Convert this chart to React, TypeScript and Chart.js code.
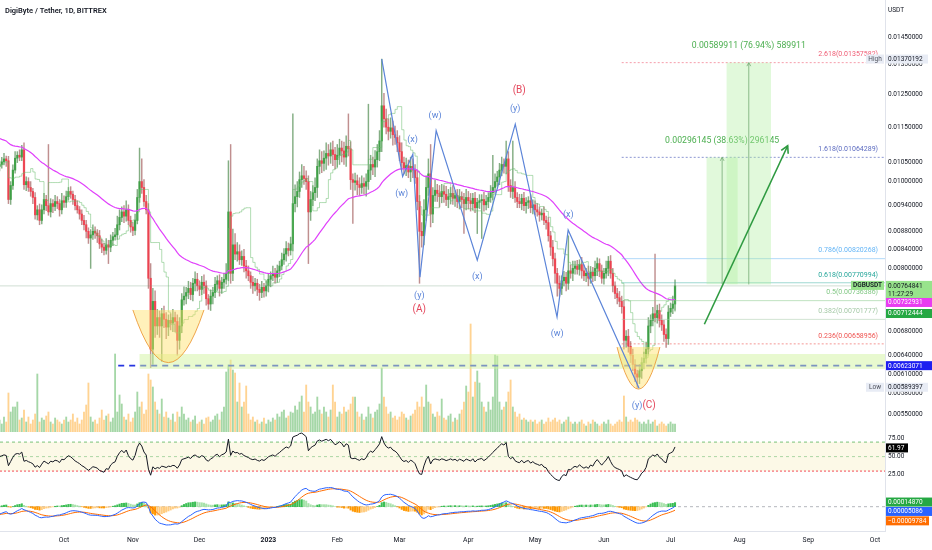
import { useEffect, useRef } from 'react';
import { Chart, registerables } from 'chart.js';

Chart.register(...registerables);

const FONT = 'Roboto, "Noto Sans", sans-serif';
const TEXT = '#131722';
Chart.defaults.font.family = FONT;

// ---- candles: one per day, day 0 = 2 Sep 2022, day 304 = 3 Jul 2023 (values in 1e-5 USDT)
const PRICE_UNIT = 0.00001;
const FIRST_OPEN = 1040;
const closeP = [
  1045, 1052, 1060, 1055, 955, 990, 1030, 1062, 1070, 1065,
  1085, 992, 1000, 985, 975, 960, 918, 930, 905, 930,
  955, 940, 925, 945, 938, 950, 945, 930, 952, 948,
  962, 975, 968, 955, 940, 930, 920, 905, 895, 880,
  865, 872, 880, 876, 870, 852, 845, 838, 850, 845,
  860, 868, 872, 895, 912, 925, 915, 930, 905, 890,
  882, 905, 960, 1000, 985, 950, 930, 780, 650, 735,
  690, 705, 690, 712, 702, 688, 700, 695, 705, 698,
  665, 690, 738, 745, 752, 760, 748, 770, 778, 765,
  758, 772, 765, 740, 730, 745, 752, 768, 775, 760,
  772, 778, 790, 925, 790, 850, 830, 835, 818, 825,
  805, 795, 785, 772, 765, 770, 758, 752, 762, 755,
  765, 778, 785, 790, 782, 795, 805, 818, 830, 842,
  838, 852, 945, 962, 975, 1005, 1015, 1008, 1000, 925,
  955, 972, 985, 1040, 1055, 1048, 1062, 1075, 1068, 1085,
  1072, 1058, 1070, 1090, 1082, 1065, 1095, 1088, 1005, 998,
  1002, 992, 985, 995, 988, 1000, 1030, 1045, 1038, 1058,
  1080, 1110, 1215, 1175, 1150, 1138, 1148, 1128, 1120, 1105,
  1080, 1050, 1035, 1042, 1025, 1040, 1030, 1010, 950, 880,
  870, 930, 985, 1020, 920, 965, 978, 970, 962, 975,
  968, 955, 962, 970, 958, 965, 950, 962, 955, 945,
  960, 952, 945, 958, 935, 948, 952, 955, 942, 950,
  960, 972, 985, 1000, 1012, 1030, 1045, 1040, 1060, 990,
  975, 985, 960, 950, 945, 958, 940, 948, 952, 935,
  942, 930, 925, 918, 922, 905, 900, 870, 845, 820,
  790, 770, 760, 775, 782, 770, 795, 790, 800, 805,
  798, 808, 795, 785, 790, 780, 792, 785, 800, 810,
  795, 780, 790, 800, 815, 790, 765, 750, 742, 735,
  725, 665, 672, 655, 640, 625, 610, 605, 615, 628,
  635, 650, 690, 700, 712, 705, 718, 700, 692, 675,
  668, 715, 722, 730, 764.841,
];
const upperWick = [
  10, 12, 15, 8, 12, 10, 14, 18, 10, 15,
  13, 20, 12, 10, 15, 8, 12, 10, 14, 12,
  15, 10, 160, 12, 10, 15, 12, 10, 18, 12,
  14, 10, 12, 8, 10, 12, 8, 10, 12, 10,
  8, 12, 15, 10, 8, 12, 10, 8, 14, 10,
  12, 10, 15, 20, 18, 12, 15, 22, 12, 10,
  10, 15, 20, 90, 60, 20, 15, 15, 30, 25,
  20, 15, 12, 10, 14, 12, 10, 12, 15, 10,
  12, 15, 12, 18, 10, 14, 12, 10, 15, 12,
  10, 12, 15, 10, 8, 12, 10, 14, 10, 12,
  10, 12, 20, 130, 175, 35, 25, 20, 15, 12,
  15, 12, 10, 8, 12, 10, 8, 10, 12, 8,
  10, 12, 8, 15, 10, 12, 10, 14, 12, 15,
  12, 15, 245, 30, 25, 20, 30, 25, 20, 15,
  20, 18, 25, 20, 30, 25, 20, 30, 25, 20,
  25, 20, 30, 25, 20, 25, 30, 95, 20, 15,
  20, 15, 18, 20, 15, 20, 190, 25, 20, 25,
  20, 30, 155, 40, 30, 25, 30, 20, 25, 20,
  20, 25, 15, 20, 15, 25, 20, 15, 20, 15,
  20, 25, 30, 40, 80, 20, 25, 15, 20, 18,
  15, 20, 18, 15, 20, 12, 15, 18, 12, 15,
  20, 15, 18, 12, 15, 10, 15, 12, 18, 15,
  12, 18, 85, 20, 15, 18, 20, 15, 50, 20,
  15, 125, 15, 12, 18, 10, 15, 12, 10, 15,
  12, 10, 15, 12, 10, 15, 10, 12, 10, 15,
  12, 10, 15, 10, 12, 10, 75, 12, 15, 10,
  12, 10, 15, 12, 10, 15, 12, 10, 15, 12,
  10, 12, 10, 15, 10, 12, 10, 8, 10, 12,
  10, 12, 10, 12, 8, 10, 8, 6, 10, 8,
  10, 12, 15, 10, 12, 118, 10, 12, 10, 8,
  10, 12, 10, 15, 12,
];
const lowerWick = [
  12, 10, 8, 15, 10, 12, 10, 8, 12, 10,
  10, 12, 15, 10, 12, 15, 10, 12, 10, 8,
  10, 12, 8, 12, 15, 10, 12, 15, 10, 12,
  12, 8, 10, 12, 10, 8, 12, 10, 12, 15,
  12, 65, 10, 12, 15, 10, 12, 10, 8, 35,
  10, 12, 8, 10, 12, 10, 15, 12, 10, 12,
  12, 10, 8, 12, 15, 12, 10, 20, 30, 25,
  20, 15, 20, 60, 15, 20, 15, 12, 15, 18,
  25, 15, 12, 10, 15, 12, 10, 12, 15, 10,
  12, 10, 15, 12, 10, 12, 15, 10, 12, 15,
  10, 12, 10, 15, 20, 15, 12, 15, 10, 12,
  12, 15, 10, 12, 15, 10, 12, 15, 10, 12,
  10, 12, 15, 10, 12, 10, 12, 8, 10, 15,
  12, 10, 15, 20, 25, 15, 20, 15, 20, 115,
  20, 15, 20, 25, 20, 25, 20, 30, 25, 20,
  30, 25, 20, 25, 30, 20, 25, 20, 25, 100,
  20, 25, 20, 15, 20, 25, 20, 25, 20, 25,
  20, 25, 30, 25, 20, 25, 20, 30, 20, 25,
  25, 20, 15, 20, 15, 25, 20, 15, 20, 110,
  25, 20, 25, 20, 30, 20, 15, 20, 25, 15,
  20, 15, 20, 18, 15, 20, 15, 18, 20, 70,
  15, 20, 18, 15, 12, 60, 15, 88, 15, 12,
  15, 12, 18, 15, 12, 20, 15, 18, 20, 15,
  15, 18, 12, 15, 10, 15, 12, 18, 15, 12,
  15, 12, 10, 15, 12, 10, 15, 12, 18, 15,
  20, 25, 15, 12, 10, 15, 12, 10, 15, 12,
  10, 12, 15, 10, 12, 15, 10, 12, 10, 15,
  12, 10, 12, 10, 15, 10, 12, 10, 12, 10,
  12, 15, 12, 10, 12, 10, 12, 16, 10, 12,
  10, 8, 10, 12, 10, 8, 10, 12, 10, 12,
  15, 10, 8, 10, 12,
];
// volume, relative units (no scale shown in the reference)
const volumeM = [
  12, 8, 15, 10, 39, 20, 25, 25, 30, 12,
  14, 22, 10, 15, 8, 12, 18, 58, 10, 14,
  12, 16, 20, 10, 8, 14, 12, 10, 8, 12,
  15, 10, 12, 18, 10, 14, 8, 12, 20, 27,
  49, 15, 10, 12, 8, 14, 22, 12, 16, 18,
  10, 14, 78, 20, 37, 28, 15, 12, 18, 10,
  14, 20, 40, 25, 30, 18, 22, 58, 52, 45,
  30, 22, 18, 33, 15, 20, 14, 12, 18, 10,
  20, 15, 25, 18, 12, 14, 10, 12, 16, 8,
  10, 12, 8, 14, 15, 10, 12, 16, 18, 12,
  20, 25, 60, 67, 72, 62, 59, 30, 49, 25,
  30, 46, 18, 12, 15, 10, 12, 8, 10, 14,
  8, 12, 10, 14, 12, 18, 15, 20, 22, 14,
  16, 20, 19, 26, 22, 30, 36, 20, 47, 30,
  25, 18, 20, 35, 22, 18, 25, 20, 15, 22,
  47, 30, 15, 20, 18, 25, 20, 22, 28, 35,
  35, 20, 15, 18, 12, 15, 25, 18, 14, 20,
  22, 28, 64, 35, 25, 18, 20, 14, 16, 12,
  15, 20, 18, 14, 12, 16, 18, 22, 30, 25,
  35, 25, 47, 30, 28, 18, 15, 20, 16, 33,
  14, 12, 16, 18, 10, 14, 12, 18, 22, 30,
  46, 40, 108, 35, 50, 61, 49, 30, 25, 20,
  30, 22, 35, 77, 76, 30, 22, 25, 30, 40,
  52, 25, 20, 15, 18, 12, 14, 12, 10, 12,
  10, 12, 8, 10, 12, 8, 10, 14, 10, 12,
  14, 10, 12, 8, 10, 12, 15, 10, 8, 10,
  8, 10, 12, 8, 6, 10, 8, 12, 10, 8,
  6, 8, 10, 8, 12, 8, 6, 8, 10, 12,
  10, 36, 15, 10, 12, 10, 14, 12, 10, 8,
  10, 8, 12, 8, 10, 12, 6, 8, 10, 8,
  6, 8, 10, 8, 8,
];

// indicator starting values read at the left edge
const EMA_SEED = 0.0112;
const MACD_FAST_SEED = 0.0104;
const MACD_SLOW_SEED = 0.01066;
const MACD_SIGNAL_SEED = -0.00025;
const RSI_SEED = 0.00012;

// axes
const X_MIN = 0.2;
const X_MAX = 398.5;
const PRICE_MIN = 0.005254;
const PRICE_MAX = 0.015947;
const priceTicks = [0.0145, 0.0135, 0.0125, 0.0115, 0.0105, 0.01, 0.0094, 0.0088, 0.0084, 0.008, 0.0068, 0.0064, 0.0061, 0.0058, 0.0055];
const rsiTicks = [25, 50, 75];
const monthDays = [29, 60, 90, 121, 152, 180, 211, 241, 272, 302, 333, 364, 394];
const monthNames = ['Oct', 'Nov', 'Dec', '2023', 'Feb', 'Mar', 'Apr', 'May', 'Jun', 'Jul', 'Aug', 'Sep', 'Oct'];

// fib extension
const fibRatios = ['0.236', '0.382', '0.5', '0.618', '0.786', '1.618', '2.618'];
const fibValues = [0.00658956, 0.00701777, 0.00736386, 0.00770994, 0.00820268, 0.01064289, 0.01357582];
const FIB_START_DAY = 280;

// elliott wave path and labels
const waveDays = [172, 181.4, 186, 189.2, 196.5, 215, 232.1, 250.9, 255.9, 287.8];
const wavePrices = [0.0137, 0.01013, 0.01073, 0.00782, 0.0114, 0.00817, 0.01159, 0.00706, 0.00883, 0.00588];
const waveTexts = ['(w)', '(x)', '(y)', '(w)', '(x)', '(y)', '(w)', '(x)', '(y)'];
const waveTextDays = [181, 185.9, 188.9, 196, 215, 232.1, 251, 256, 286.9];
const waveTextPrices = [0.0097, 0.01113, 0.00746, 0.01185, 0.00783, 0.01205, 0.00676, 0.00918, 0.00562];
const degreeTexts = ['(A)', '(B)', '(C)'];
const degreeDays = [188.9, 233.9, 292.3];
const degreePrices = [0.00719, 0.01265, 0.00562];

// price projections
const projFrom = [318.2, 327.2];
const projTo = [332.2, 347.2];
const projBase = [0.00768144, 0.00767671];
const projTarget = [0.01064289, 0.01357582];
const projTexts = ['0.00296145 (38.63%) 296145', '0.00589911 (76.94%) 589911'];
const arrowDays = [317.2, 354.7];
const arrowPrices = [0.00693, 0.010965];

// rounded bottoms
const bowlFrom = [60, 277.9];
const bowlTo = [92, 297.2];
const bowlTop = [0.00719, 0.006535];
const bowlBottom = [0.00628, 0.005867];

// support
const SUPPORT = 0.00623071;
const SUPPORT_LINE_FROM = 53.4;
const SUPPORT_BAND_FROM = 63;
const supportBand = [0.00618, 0.00642];

// right-hand markers
const HIGH = 0.01370192;
const LOW = 0.00589397;
const LAST = 0.00764841;
const COUNTDOWN = '11:27:29';
const MA_LAST = 0.00732931;
const TENKAN_LAST = 0.00712444;
const RSI_LAST = 61.97;
const macdMarkValues = [0.0001487, 0.00005086, -0.00009784];
const macdMarkTexts = ['0.00014870', '0.00005086', '\u22120.00009784'];

// ---- derived series
const days = closeP.map((_, i) => i);
const close = closeP.map((v) => v * PRICE_UNIT);
const open = close.map((_, i) => (i === 0 ? FIRST_OPEN * PRICE_UNIT : close[i - 1]));
const high = close.map((c, i) => Math.max(open[i], c) + upperWick[i] * PRICE_UNIT);
const low = close.map((c, i) => Math.min(open[i], c) - lowerWick[i] * PRICE_UNIT);
const isUp = close.map((c, i) => c >= open[i]);

function ema(src: number[], period: number, seed: number) {
  const k = 2 / (period + 1);
  let v = seed;
  return src.map((x) => (v += k * (x - v)));
}

const ma50 = ema(close, 50, EMA_SEED);
const tenkan = close.map((_, i) => {
  const s = Math.max(0, i - 8);
  return (Math.max(...high.slice(s, i + 1)) + Math.min(...low.slice(s, i + 1))) / 2;
});

let avgGain = RSI_SEED;
let avgLoss = RSI_SEED;
const rsi = close.map((c, i) => {
  if (i > 0) {
    const ch = c - close[i - 1];
    avgGain = (avgGain * 13 + Math.max(ch, 0)) / 14;
    avgLoss = (avgLoss * 13 + Math.max(-ch, 0)) / 14;
  }
  return 100 - 100 / (1 + avgGain / avgLoss);
});

const fast = ema(close, 12, MACD_FAST_SEED);
const slow = ema(close, 26, MACD_SLOW_SEED);
const macd = fast.map((f, i) => f - slow[i]);
const signal = ema(macd, 9, MACD_SIGNAL_SEED);
const hist = macd.map((m, i) => m - signal[i]);

// ---- drawing helpers
function hline(ctx: any, x1: number, x2: number, y: number, color: string, width: number, dash: number[]) {
  ctx.save();
  ctx.strokeStyle = color;
  ctx.lineWidth = width;
  ctx.setLineDash(dash);
  ctx.beginPath();
  ctx.moveTo(x1, y);
  ctx.lineTo(x2, y);
  ctx.stroke();
  ctx.restore();
}

function text(ctx: any, s: string, x: number, y: number, color: string, size: number, align = 'center', weight = 'normal') {
  ctx.font = `${weight} ${size}px ${FONT}`;
  ctx.fillStyle = color;
  ctx.textAlign = align;
  ctx.textBaseline = 'middle';
  ctx.fillText(s, x, y);
}

function arrowHead(ctx: any, x1: number, y1: number, x2: number, y2: number, len: number) {
  const a = Math.atan2(y2 - y1, x2 - x1);
  ctx.beginPath();
  ctx.moveTo(x2 - len * Math.cos(a - 0.5), y2 - len * Math.sin(a - 0.5));
  ctx.lineTo(x2, y2);
  ctx.lineTo(x2 - len * Math.cos(a + 0.5), y2 - len * Math.sin(a + 0.5));
  ctx.stroke();
}

function tag(ctx: any, x: number, y: number, w: number, h: number, bg: string, fg: string, s: string) {
  ctx.fillStyle = bg;
  ctx.fillRect(x, y - h / 2, w, h);
  text(ctx, s, x + 2, y + 0.3, fg, 6.5, 'left');
}

const FIB_COLORS = ['#ef5350', '#a5c9a7', '#81c784', '#26a69a', '#64b5f6', '#5c6bc0', '#ef5b73'];
const FIB_LINES = ['rgba(239,83,80,0.6)', 'rgba(165,201,167,0.5)', 'rgba(129,199,132,0.5)', 'rgba(38,166,154,0.45)', 'rgba(100,181,246,0.5)', 'rgba(92,107,192,0.7)', 'rgba(239,91,115,0.6)'];
const WAVE_BLUE = '#5b84d8';
const WAVE_RED = '#e4475c';

function rightAxis(extra: any) {
  return {
    position: 'right',
    grid: { display: false, drawTicks: false },
    border: { display: true, color: '#e0e3eb' },
    afterFit: (s: any) => {
      s.width = 47;
      s.paddingTop = 0;
      s.paddingBottom = 0;
    },
    ...extra,
  };
}

const xHidden = { type: 'linear', min: X_MIN, max: X_MAX, display: false, offset: false };

const priceOverlay = {
  id: 'priceOverlay',
  afterDatasetsDraw(chart: any) {
    const { ctx, chartArea: a } = chart;
    const X = (d: number) => chart.scales.x.getPixelForValue(d);
    const Y = (p: number) => chart.scales.y.getPixelForValue(p);
    ctx.save();
    ctx.beginPath();
    ctx.rect(a.left, a.top, a.right - a.left, a.bottom - a.top);
    ctx.clip();

    hline(ctx, a.left, a.right, Y(LAST), 'rgba(120,160,130,0.35)', 1, []);

    // support line and zone
    hline(ctx, X(SUPPORT_LINE_FROM), a.right, Y(SUPPORT), '#2635e0', 1.8, [6, 5]);
    ctx.fillStyle = 'rgba(210,243,160,0.5)';
    const bx = X(SUPPORT_BAND_FROM);
    ctx.fillRect(bx, Y(supportBand[1]), a.right - bx, Y(supportBand[0]) - Y(supportBand[1]));

    // rounded bottoms
    bowlFrom.forEach((_, i) => {
      const l = X(bowlFrom[i]);
      const r = X(bowlTo[i]);
      const t = Y(bowlTop[i]);
      const b = Y(bowlBottom[i]);
      const m = (l + r) / 2;
      ctx.beginPath();
      ctx.moveTo(l, t);
      ctx.quadraticCurveTo(m, 2 * b - t, r, t);
      ctx.closePath();
      ctx.fillStyle = 'rgba(255,224,102,0.45)';
      ctx.fill();
      ctx.beginPath();
      ctx.moveTo(l, t);
      ctx.quadraticCurveTo(m, 2 * b - t, r, t);
      ctx.strokeStyle = 'rgba(236,150,50,0.85)';
      ctx.lineWidth = 1;
      ctx.stroke();
    });

    // fib levels
    fibValues.forEach((v, i) => {
      const dotted = i === 0 || i >= 5;
      hline(ctx, X(FIB_START_DAY), a.right, Y(v), FIB_LINES[i], 1, dotted ? [2, 2] : []);
      text(ctx, `${fibRatios[i]}(${v.toFixed(8)})`, a.right - 7, Y(v) - 8, FIB_COLORS[i], 7, 'right');
    });

    // projections
    projFrom.forEach((_, i) => {
      const l = X(projFrom[i]);
      const r = X(projTo[i]);
      const t = Y(projTarget[i]);
      const b = Y(projBase[i]);
      const cx = (l + r) / 2;
      ctx.fillStyle = 'rgba(175,238,160,0.38)';
      ctx.fillRect(l, t, r - l, b - t);
      ctx.strokeStyle = 'rgba(110,165,110,0.75)';
      ctx.lineWidth = 1;
      ctx.beginPath();
      ctx.moveTo(cx, b);
      ctx.lineTo(cx, t);
      ctx.stroke();
      arrowHead(ctx, cx, b, cx, t, 4);
      text(ctx, projTexts[i], cx, t - 17, '#4caf50', 8.7);
    });

    // elliott wave path
    ctx.strokeStyle = WAVE_BLUE;
    ctx.lineWidth = 1.2;
    ctx.beginPath();
    waveDays.forEach((d, i) => {
      if (i === 0) ctx.moveTo(X(d), Y(wavePrices[i]));
      else ctx.lineTo(X(d), Y(wavePrices[i]));
    });
    ctx.stroke();
    waveTexts.forEach((s, i) => text(ctx, s, X(waveTextDays[i]), Y(waveTextPrices[i]), WAVE_BLUE, 9));
    degreeTexts.forEach((s, i) => text(ctx, s, X(degreeDays[i]), Y(degreePrices[i]), WAVE_RED, 10));

    // forecast arrow
    const ax1 = X(arrowDays[0]);
    const ay1 = Y(arrowPrices[0]);
    const ax2 = X(arrowDays[1]);
    const ay2 = Y(arrowPrices[1]);
    ctx.strokeStyle = '#2e9a40';
    ctx.lineWidth = 1.6;
    ctx.beginPath();
    ctx.moveTo(ax1, ay1);
    ctx.lineTo(ax2, ay2);
    ctx.stroke();
    arrowHead(ctx, ax1, ay1, ax2, ay2, 8);

    ctx.restore();
  },
  afterDraw(chart: any) {
    const { ctx, chartArea: a } = chart;
    const Y = (p: number) => chart.scales.y.getPixelForValue(p);
    const x0 = a.right + 1;
    ctx.save();
    text(ctx, 'DigiByte / Tether, 1D, BITTREX', 5, 11, TEXT, 7.5, 'left', '600');
    text(ctx, 'USDT', x0 + 2, 10, TEXT, 6.5, 'left');

    ctx.fillStyle = '#e8ecf5';
    ctx.fillRect(a.right - 19, Y(HIGH) - 4.5, 18, 9);
    text(ctx, 'High', a.right - 10, Y(HIGH), '#50535e', 6.5);
    tag(ctx, x0, Y(HIGH), 42, 9, '#e8ecf5', TEXT, HIGH.toFixed(8));
    ctx.fillStyle = '#e8ecf5';
    ctx.fillRect(a.right - 19, Y(LOW) - 4.5, 18, 9);
    text(ctx, 'Low', a.right - 10, Y(LOW), '#50535e', 6.5);
    tag(ctx, x0, Y(LOW), 42, 9, '#e8ecf5', TEXT, LOW.toFixed(8));

    const yl = Y(LAST);
    ctx.fillStyle = '#98e38c';
    ctx.fillRect(x0, yl - 5, 46, 17.5);
    ctx.fillRect(a.right - 34, yl - 5, 33, 9);
    text(ctx, LAST.toFixed(8), x0 + 2, yl, TEXT, 6.5, 'left');
    text(ctx, COUNTDOWN, x0 + 2, yl + 8.5, TEXT, 6.5, 'left');
    text(ctx, 'DGBUSDT', a.right - 17.5, yl - 0.5, TEXT, 6.5, 'center', '600');

    tag(ctx, x0, Y(MA_LAST), 46, 9, '#e83cf0', '#ffffff', MA_LAST.toFixed(8));
    tag(ctx, x0, Y(TENKAN_LAST), 46, 9, '#25a843', '#ffffff', TENKAN_LAST.toFixed(8));
    tag(ctx, x0, Y(SUPPORT), 46, 9, '#1d1ff0', '#ffffff', SUPPORT.toFixed(8));
    ctx.restore();
  },
};

const rsiOverlay = {
  id: 'rsiOverlay',
  beforeDatasetsDraw(chart: any) {
    const { ctx, chartArea: a } = chart;
    const Y = (v: number) => chart.scales.y.getPixelForValue(v);
    ctx.save();
    ctx.fillStyle = 'rgba(250,244,212,0.55)';
    ctx.fillRect(a.left, Y(70), a.right - a.left, Y(30) - Y(70));
    hline(ctx, a.left, a.right, Y(70), 'rgba(76,175,80,0.75)', 1, [3, 3]);
    hline(ctx, a.left, a.right, Y(50), 'rgba(120,190,120,0.6)', 1, [3, 3]);
    hline(ctx, a.left, a.right, Y(30), 'rgba(242,54,69,0.75)', 1.2, [2, 2]);
    ctx.restore();
  },
  afterDraw(chart: any) {
    const { ctx, chartArea: a } = chart;
    ctx.save();
    tag(ctx, a.right + 1, chart.scales.y.getPixelForValue(RSI_LAST), 22, 9, '#000000', '#ffffff', RSI_LAST.toFixed(2));
    ctx.restore();
  },
};

const MACD_TAG_COLORS = ['#25a843', '#2962ff', '#ff6d00'];
const macdOverlay = {
  id: 'macdOverlay',
  beforeDatasetsDraw(chart: any) {
    const { ctx, chartArea: a } = chart;
    hline(ctx, a.left, a.right, chart.scales.y.getPixelForValue(0), 'rgba(120,123,134,0.55)', 1, [3, 3]);
  },
  afterDraw(chart: any) {
    const { ctx, chartArea: a } = chart;
    ctx.save();
    let prev = -Infinity;
    macdMarkValues.forEach((v, i) => {
      const y = Math.max(chart.scales.y.getPixelForValue(v), prev + 9.4);
      prev = y;
      tag(ctx, a.right + 1, y, i === 2 ? 43 : 46, 9, MACD_TAG_COLORS[i], '#ffffff', macdMarkTexts[i]);
    });
    ctx.restore();
  },
};

export default function App() {
  const priceRef = useRef<HTMLCanvasElement | null>(null);
  const rsiRef = useRef<HTMLCanvasElement | null>(null);
  const macdRef = useRef<HTMLCanvasElement | null>(null);

  useEffect(() => {
    if (!priceRef.current || !rsiRef.current || !macdRef.current) return;
    const common: any = {
      responsive: true,
      maintainAspectRatio: false,
      animation: false,
      events: [],
      layout: { padding: 0 },
      plugins: { legend: { display: false }, tooltip: { enabled: false } },
    };

    const priceChart = new Chart(priceRef.current, {
      type: 'bar',
      data: {
        datasets: [
          {
            type: 'line',
            label: 'EMA 50',
            data: days.map((i) => ({ x: i, y: ma50[i] })),
            borderColor: '#e040fb',
            borderWidth: 1.2,
            pointRadius: 0,
            yAxisID: 'y',
            order: 1,
          },
          {
            type: 'line',
            label: 'Conversion',
            data: days.map((i) => ({ x: i, y: tenkan[i] })),
            borderColor: 'rgba(102,187,106,0.5)',
            borderWidth: 1,
            pointRadius: 0,
            stepped: true,
            yAxisID: 'y',
            order: 2,
          },
          {
            label: 'Body',
            data: days.map((i) => ({ x: i, y: [open[i], close[i]] })),
            backgroundColor: days.map((i) => (isUp[i] ? 'rgba(56,158,64,0.9)' : 'rgba(242,54,69,0.85)')),
            barThickness: 1.6,
            grouped: false,
            yAxisID: 'y',
            order: 3,
          },
          {
            label: 'Wick',
            data: days.map((i) => ({ x: i, y: [low[i], high[i]] })),
            backgroundColor: days.map((i) => (isUp[i] ? 'rgba(80,140,80,0.7)' : 'rgba(165,95,95,0.7)')),
            barThickness: 0.8,
            grouped: false,
            yAxisID: 'y',
            order: 4,
          },
          {
            label: 'Volume',
            data: days.map((i) => ({ x: i, y: volumeM[i] })),
            backgroundColor: days.map((i) => (isUp[i] ? 'rgba(76,175,80,0.5)' : 'rgba(255,167,38,0.5)')),
            barThickness: 1.2,
            grouped: false,
            yAxisID: 'vol',
            order: 5,
          },
        ] as any,
      },
      options: {
        ...common,
        scales: {
          x: xHidden,
          y: rightAxis({
            type: 'logarithmic',
            min: PRICE_MIN,
            max: PRICE_MAX,
            ticks: {
              color: TEXT,
              font: { size: 6.5 },
              padding: 3,
              autoSkip: false,
              callback: (v: any) => Number(v).toFixed(8),
            },
            afterBuildTicks: (s: any) => {
              s.ticks = priceTicks.map((v) => ({ value: v }));
            },
          }),
          vol: { type: 'linear', display: false, min: 0, max: 432 },
        },
      } as any,
      plugins: [priceOverlay],
    });

    const rsiChart = new Chart(rsiRef.current, {
      type: 'line',
      data: {
        datasets: [
          {
            label: 'RSI',
            data: days.map((i) => ({ x: i, y: rsi[i] })),
            borderColor: '#131722',
            borderWidth: 1,
            pointRadius: 0,
          },
        ],
      },
      options: {
        ...common,
        scales: {
          x: xHidden,
          y: rightAxis({
            type: 'linear',
            min: 14.97,
            max: 83.9,
            ticks: { color: TEXT, font: { size: 6.5 }, padding: 3, callback: (v: any) => Number(v).toFixed(2) },
            afterBuildTicks: (s: any) => {
              s.ticks = rsiTicks.map((v) => ({ value: v }));
            },
          }),
        },
      } as any,
      plugins: [rsiOverlay],
    });

    const macdChart = new Chart(macdRef.current, {
      type: 'bar',
      data: {
        datasets: [
          {
            type: 'line',
            label: 'MACD',
            data: days.map((i) => ({ x: i, y: macd[i] })),
            borderColor: '#2962ff',
            borderWidth: 1,
            pointRadius: 0,
            order: 1,
          },
          {
            type: 'line',
            label: 'Signal',
            data: days.map((i) => ({ x: i, y: signal[i] })),
            borderColor: '#ff6d00',
            borderWidth: 1,
            pointRadius: 0,
            order: 2,
          },
          {
            label: 'Histogram',
            data: days.map((i) => ({ x: i, y: hist[i] })),
            backgroundColor: days.map((i) => {
              const rising = i > 0 && hist[i] > hist[i - 1];
              if (hist[i] >= 0) return rising ? '#3cbf55' : '#a8e2ab';
              return rising ? '#ffcc80' : '#ff9800';
            }),
            barThickness: 1.4,
            grouped: false,
            order: 3,
          },
        ] as any,
      },
      options: {
        ...common,
        scales: {
          x: {
            type: 'linear',
            min: X_MIN,
            max: X_MAX,
            offset: false,
            position: 'bottom',
            grid: { display: false, drawTicks: false },
            border: { display: true, color: '#e0e3eb' },
            ticks: {
              autoSkip: false,
              maxRotation: 0,
              padding: 5,
              color: TEXT,
              font: (c: any) => ({ family: FONT, size: 6.8, weight: c.tick && c.tick.value === 121 ? 'bold' : 'normal' }),
              callback: (v: any) => {
                const k = monthDays.indexOf(v);
                return k >= 0 ? monthNames[k] : '';
              },
            },
            afterBuildTicks: (s: any) => {
              s.ticks = monthDays.map((v) => ({ value: v }));
            },
            afterFit: (s: any) => {
              s.height = 19;
              s.paddingLeft = 0;
              s.paddingRight = 0;
            },
          },
          y: rightAxis({
            type: 'linear',
            min: -0.000778,
            max: 0.00079,
            ticks: { display: false },
          }),
        },
      } as any,
      plugins: [macdOverlay],
    });

    return () => {
      priceChart.destroy();
      rsiChart.destroy();
      macdChart.destroy();
    };
  }, []);

  const box = (top: number, height: number): any => ({ position: 'absolute', left: 0, top, width: 932, height });

  return (
    <div style={{ position: 'fixed', left: 0, top: 0, width: 932, height: 550, background: '#ffffff' }}>
      <div style={box(0, 432)}>
        <canvas ref={priceRef}></canvas>
      </div>
      <div style={box(432, 50)}>
        <canvas ref={rsiRef}></canvas>
      </div>
      <div style={box(482, 68)}>
        <canvas ref={macdRef}></canvas>
      </div>
    </div>
  );
}
